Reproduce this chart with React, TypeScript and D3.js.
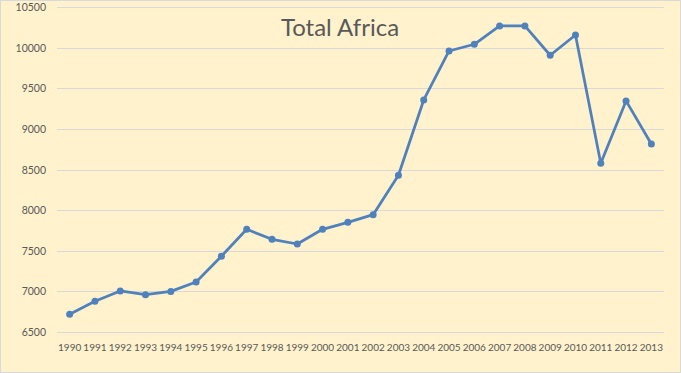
import React, { useEffect, useRef } from "react";
import * as d3 from "d3";

const years = [
  "1990", "1991", "1992", "1993", "1994", "1995", "1996", "1997",
  "1998", "1999", "2000", "2001", "2002", "2003", "2004", "2005",
  "2006", "2007", "2008", "2009", "2010", "2011", "2012", "2013",
];
const production = [
  6718, 6878, 7005, 6959, 7000, 7115, 7432, 7764,
  7641, 7583, 7764, 7850, 7944, 8429, 9356, 9959,
  10041, 10267, 10267, 9906, 10156, 8577, 9344, 8814,
];
const yTicks = [6500, 7000, 7500, 8000, 8500, 9000, 9500, 10000, 10500];

const W = 681;
const H = 373;
const FONT = "Lato, 'Open Sans', sans-serif";

export default function App() {
  const svgRef = useRef<SVGSVGElement>(null);

  useEffect(() => {
    const svg = d3.select(svgRef.current);
    svg.selectAll("*").remove();

    const left = 57;
    const right = 664;
    const top = 7;
    const bottom = 332;

    const x = d3.scaleBand().domain(years).range([left, right]);
    const y = d3.scaleLinear().domain([6500, 10500]).range([bottom, top]);

    svg
      .append("rect")
      .attr("x", 0.5)
      .attr("y", 0.5)
      .attr("width", W - 1)
      .attr("height", H - 1)
      .attr("fill", "#FFF2CC")
      .attr("stroke", "#D9D9D9");

    svg
      .append("g")
      .selectAll("line")
      .data(yTicks)
      .enter()
      .append("line")
      .attr("x1", left)
      .attr("x2", right)
      .attr("y1", (d) => Math.round(y(d)) + 0.5)
      .attr("y2", (d) => Math.round(y(d)) + 0.5)
      .attr("stroke", "#D9D9D9")
      .attr("stroke-width", 1);

    svg
      .append("g")
      .selectAll("text")
      .data(yTicks)
      .enter()
      .append("text")
      .attr("x", 46)
      .attr("y", (d) => y(d) + 4)
      .attr("text-anchor", "end")
      .attr("font-family", FONT)
      .attr("font-size", 10.5)
      .attr("fill", "#595959")
      .text((d) => d);

    svg
      .append("g")
      .selectAll("text")
      .data(years)
      .enter()
      .append("text")
      .attr("x", (d) => (x(d) as number) + x.bandwidth() / 2)
      .attr("y", 351)
      .attr("text-anchor", "middle")
      .attr("font-family", FONT)
      .attr("font-size", 10)
      .attr("fill", "#595959")
      .text((d) => d);

    const line = d3
      .line<number>()
      .x((_, i) => (x(years[i]) as number) + x.bandwidth() / 2)
      .y((d) => y(d));

    svg
      .append("path")
      .datum(production)
      .attr("d", line)
      .attr("fill", "none")
      .attr("stroke", "#4F81BD")
      .attr("stroke-width", 2.75)
      .attr("stroke-linejoin", "round");

    svg
      .append("g")
      .selectAll("circle")
      .data(production)
      .enter()
      .append("circle")
      .attr("cx", (_, i) => (x(years[i]) as number) + x.bandwidth() / 2)
      .attr("cy", (d) => y(d))
      .attr("r", 3.5)
      .attr("fill", "#4F81BD");

    svg
      .append("text")
      .attr("x", 340)
      .attr("y", 36)
      .attr("text-anchor", "middle")
      .attr("font-family", FONT)
      .attr("font-size", 24)
      .attr("fill", "#595959")
      .text("Total Africa");
  }, []);

  return (
    <div style={{ position: "absolute", left: 0, top: 0 }}>
      <svg ref={svgRef} width={W} height={H} style={{ display: "block" }}></svg>
    </div>
  );
}
